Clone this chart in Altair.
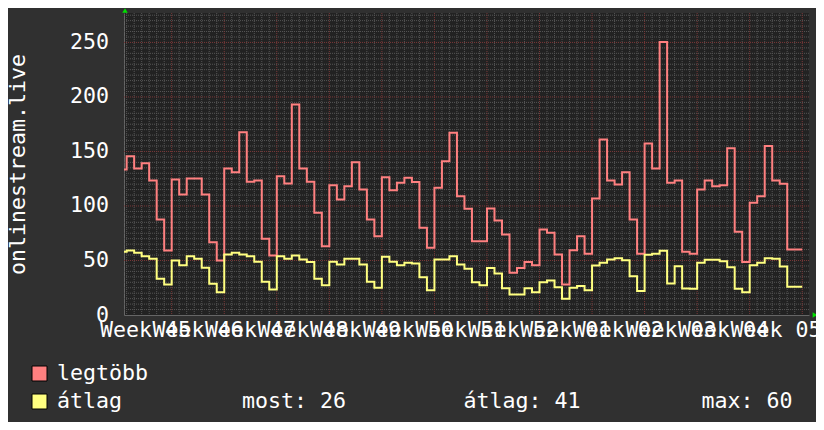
import altair as alt
import pandas as pd

# ---- data (daily steps, day index relative to first week tick) ----
first_day = -7
max_vals = [133.5, 145.7, 134.4, 139.3, 123.4, 87.6, 59.2,
            124.3, 110.6, 125.2, 125.2, 110.6, 66.8, 50.0,
            134.4, 131.0, 167.7, 122.2, 123.4, 69.9, 54.6,
            127.3, 120.6, 193.0, 134.4, 122.2, 93.8, 63.1,
            119.1, 106.0, 118.2, 140.2, 115.1, 87.6, 72.3,
            126.4, 114.5, 121.3, 125.9, 121.9, 80.0, 61.7,
            116.7, 141.1, 167.2, 109.0, 97.4, 67.7, 67.7,
            97.7, 86.7, 73.9, 38.7, 43.0, 48.5, 45.7,
            78.4, 75.4, 55.5, 28.0, 59.5, 72.3, 56.1,
            106.9, 161.0, 123.4, 119.7, 131.0, 87.6, 56.1,
            157.3, 134.4, 250.3, 121.3, 123.4, 58.0, 56.1,
            115.1, 123.4, 118.2, 119.0, 153.0, 76.3, 48.5,
            102.9, 109.0, 154.9, 123.4, 120.3, 60.1, 60.1]
avg_vals = [58.0, 59.2, 57.0, 54.0, 51.5, 33.2, 28.0,
            50.0, 45.7, 54.0, 51.5, 43.3, 28.6, 20.9,
            55.5, 57.0, 55.5, 54.0, 48.8, 30.5, 23.4,
            54.0, 51.5, 54.6, 50.9, 48.5, 33.2, 27.4,
            48.8, 46.3, 51.5, 51.5, 46.3, 30.5, 24.9,
            53.4, 48.8, 45.7, 47.9, 47.2, 34.7, 22.8,
            50.9, 50.9, 54.0, 46.3, 42.4, 30.1, 27.4,
            43.0, 38.1, 24.6, 18.8, 18.8, 24.6, 20.9,
            30.1, 31.6, 25.5, 14.9, 24.9, 26.5, 22.8,
            45.4, 47.9, 50.9, 52.1, 50.3, 35.6, 21.9,
            55.2, 56.1, 58.9, 28.9, 44.8, 24.3, 24.0,
            47.9, 50.6, 50.6, 49.4, 43.9, 24.0, 20.9,
            45.7, 47.9, 52.1, 51.5, 44.5, 25.9, 25.9]
series_names = ["legtöbb", "átlag"]
series_colors = ["#ff8080", "#ffff80"]
week_labels = ["Week 45", "Week 46", "Week 47", "Week 48", "Week 49", "Week 50",
               "Week 51", "Week 52", "Week 01", "Week 02", "Week 03", "Week 04", "Week 05"]
week_ticks = [0, 7, 14, 21, 28, 35, 42, 49, 56, 63, 70, 77, 84]
y_tick_values = [0, 50, 100, 150, 200, 250]
stats_labels = ["most: 26", "átlag: 41", "max: 60"]
y_title = "onlinestream.live"

FONT = "DejaVu Sans Mono"
FS = 21.6
W, H = 685, 302
XDOM = [-6.354, 84.9]
YDOM = [0, 277]

rows = []
for name, vals in zip(series_names, [max_vals, avg_vals]):
    for i, v in enumerate(vals):
        rows.append({"day": first_day + i, "value": v, "series": name})
    rows.append({"day": first_day + len(vals), "value": vals[-1], "series": name})
df = pd.DataFrame(rows)

xscale = alt.Scale(domain=XDOM, nice=False, zero=False)
yscale = alt.Scale(domain=YDOM, nice=False, zero=False)
xaxis = alt.Axis(labels=False, ticks=False, grid=False, title=None,
                 domain=True, domainColor="#666666", domainWidth=1)
yaxis = alt.Axis(values=y_tick_values, grid=False, ticks=False, tickSize=0,
                 labelPadding=15.5, labelFont=FONT, labelFontSize=FS,
                 labelColor="#ffffff", domain=True, domainColor="#666666",
                 domainWidth=1, title=y_title, titleFont=FONT, titleFontSize=FS,
                 titleColor="#ffffff", titleFontWeight="normal", titleAngle=270,
                 titleX=-100, titleY=151, titleAlign="center",
                 titleBaseline="alphabetic")


def X(field):
    return alt.X(field, type="quantitative", scale=xscale, axis=xaxis)


def Y(field):
    return alt.Y(field, type="quantitative", scale=yscale, axis=yaxis)


minor_x = pd.DataFrame({"d": [d for d in range(-6, 85) if d % 7 != 0]})
minor_y = pd.DataFrame({"v": [v for v in range(5, 277, 5) if v % 50 != 0]})
major_x = pd.DataFrame({"d": week_ticks})
major_y = pd.DataFrame({"v": [v for v in y_tick_values if v > 0]})

grid_minor_x = alt.Chart(minor_x).mark_rule(color="#555555", strokeDash=[1, 1], strokeWidth=1).encode(x=X("d"))
grid_minor_y = alt.Chart(minor_y).mark_rule(color="#555555", strokeDash=[1, 1], strokeWidth=1).encode(y=Y("v"))
grid_major_x = alt.Chart(major_x).mark_rule(color="#7a3838", strokeDash=[1, 1], strokeWidth=1).encode(x=X("d"))
grid_major_y = alt.Chart(major_y).mark_rule(color="#7a3838", strokeDash=[1, 1], strokeWidth=1).encode(y=Y("v"))

lines = alt.Chart(df).mark_line(interpolate="step-after", strokeWidth=2, clip=True).encode(
    x=X("day"), y=Y("value"),
    color=alt.Color("series:N", scale=alt.Scale(domain=series_names, range=series_colors), legend=None),
    detail="series:N",
)

wl = pd.DataFrame({"pos": [t - 3.5 for t in week_ticks], "label": week_labels})
week_text = alt.Chart(wl).mark_text(font=FONT, fontSize=FS, color="#ffffff", align="center",
                                    baseline="alphabetic").encode(
    x=X("pos"), y=alt.value(324), text="label:N")

arrow_up = alt.Chart(pd.DataFrame({"a": [0]})).mark_point(
    shape="triangle-up", filled=True, color="#00e000", size=30, opacity=1).encode(
    x=alt.value(1), y=alt.value(-2.5))
arrow_right = alt.Chart(pd.DataFrame({"a": [0]})).mark_point(
    shape="triangle-right", filled=True, color="#00e000", size=30, opacity=1).encode(
    x=alt.value(691), y=alt.value(302))

legend_layers = []
for i, (name, col) in enumerate(zip(series_names, series_colors)):
    ld = pd.DataFrame({"label": [name]})
    legend_layers.append(alt.Chart(ld).mark_square(size=225, fill=col, stroke="#000000",
                                                   strokeWidth=1, opacity=1).encode(
        x=alt.value(-84.5), y=alt.value(360.5 + 28 * i)))
    legend_layers.append(alt.Chart(ld).mark_text(font=FONT, fontSize=FS, color="#ffffff",
                                                 align="left", baseline="alphabetic").encode(
        x=alt.value(-67), y=alt.value(367 + 28 * i), text="label:N"))

stat_x = [118, 339.5, 577.5]
for lab, sx in zip(stats_labels, stat_x):
    legend_layers.append(alt.Chart(pd.DataFrame({"label": [lab]})).mark_text(
        font=FONT, fontSize=FS, color="#ffffff", align="left", baseline="alphabetic").encode(
        x=alt.value(sx), y=alt.value(395), text="label:N"))

chart = alt.layer(
    grid_minor_x, grid_minor_y, grid_major_x, grid_major_y, lines, week_text,
    arrow_up, arrow_right, *legend_layers
).properties(
    width=W, height=H,
    padding={"left": 116, "top": 5, "right": 7, "bottom": 107},
    autosize=alt.AutoSizeParams(type="none"),
).configure(background="#303030").configure_view(fill="#222222", strokeWidth=0)

chart.save("out.html", embed_options={"renderer": "svg", "actions": False})
